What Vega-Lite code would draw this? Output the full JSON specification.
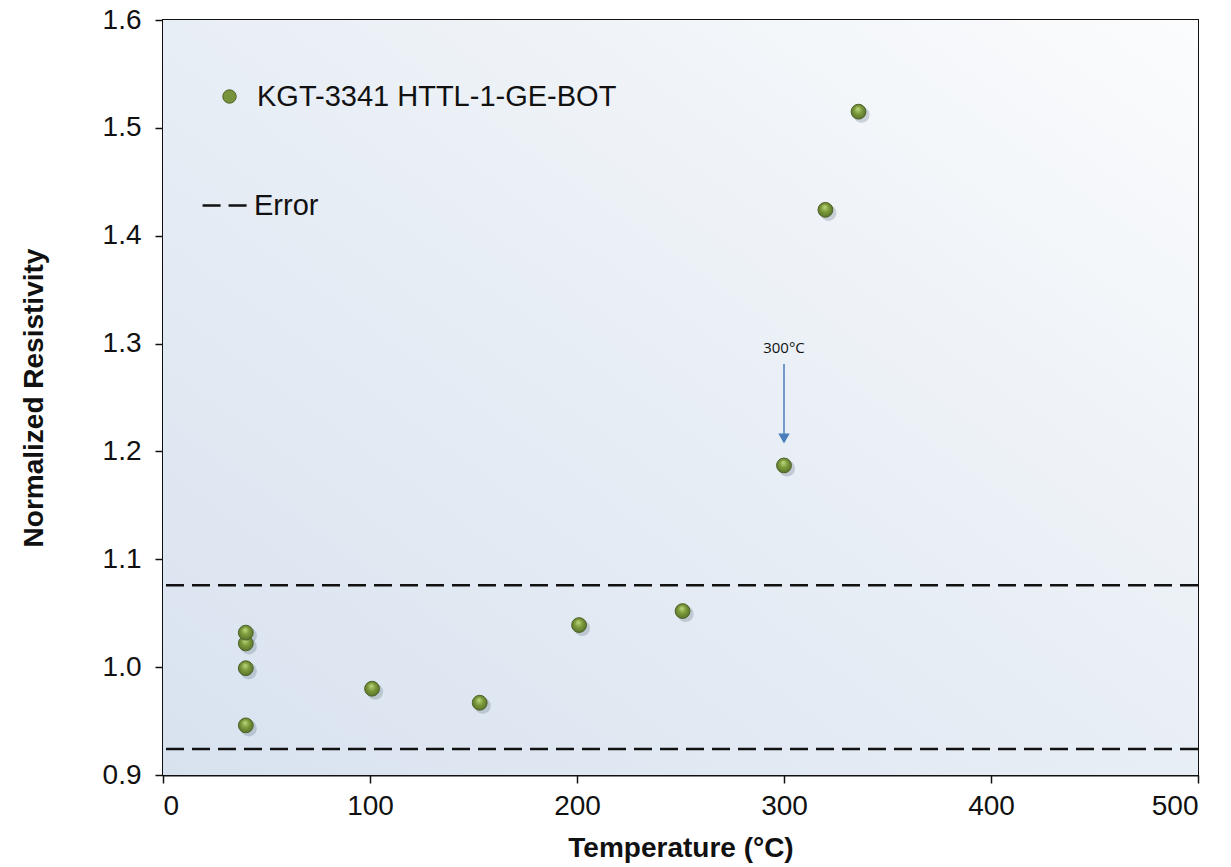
{
  "$schema": "https://vega.github.io/schema/vega-lite/v6.json",
  "width": 1035,
  "height": 755,
  "autosize": {"type": "none"},
  "padding": {"left": 163, "top": 20, "right": 33, "bottom": 92},
  "background": "white",
  "config": {
    "font": "Liberation Sans",
    "view": {"stroke": "#111111", "strokeWidth": 2},
    "axis": {
      "domainColor": "#111111",
      "domainWidth": 2,
      "tickColor": "#111111",
      "tickWidth": 1.5,
      "tickSize": 8,
      "grid": false,
      "labelFont": "Liberation Sans",
      "labelFontSize": 28,
      "labelColor": "#111111",
      "titleFont": "Liberation Sans",
      "titleFontSize": 28,
      "titleFontWeight": "bold",
      "titleColor": "#111111"
    },
    "legend": {
      "labelFont": "Liberation Sans",
      "labelFontSize": 29,
      "labelColor": "#111111",
      "labelLimit": 0,
      "title": null
    }
  },
  "datasets": {
    "resistivity": [
      {"temperature": 40, "resistivity": 0.946, "series": "KGT-3341 HTTL-1-GE-BOT"},
      {"temperature": 40, "resistivity": 0.999, "series": "KGT-3341 HTTL-1-GE-BOT"},
      {"temperature": 40, "resistivity": 1.022, "series": "KGT-3341 HTTL-1-GE-BOT"},
      {"temperature": 40, "resistivity": 1.032, "series": "KGT-3341 HTTL-1-GE-BOT"},
      {"temperature": 101, "resistivity": 0.980, "series": "KGT-3341 HTTL-1-GE-BOT"},
      {"temperature": 153, "resistivity": 0.967, "series": "KGT-3341 HTTL-1-GE-BOT"},
      {"temperature": 201, "resistivity": 1.039, "series": "KGT-3341 HTTL-1-GE-BOT"},
      {"temperature": 251, "resistivity": 1.052, "series": "KGT-3341 HTTL-1-GE-BOT"},
      {"temperature": 300, "resistivity": 1.187, "series": "KGT-3341 HTTL-1-GE-BOT"},
      {"temperature": 320, "resistivity": 1.424, "series": "KGT-3341 HTTL-1-GE-BOT"},
      {"temperature": 336, "resistivity": 1.515, "series": "KGT-3341 HTTL-1-GE-BOT"}
    ],
    "errorBand": [
      {"level": 1.076, "label": "Error"},
      {"level": 0.924, "label": "Error"}
    ],
    "callout": [
      {"temperature": 300, "top": 1.281, "tip": 1.212, "text": "300°C", "textAt": 1.296}
    ]
  },
  "layer": [
    {
      "data": {"values": [{"x0": 0, "x1": 500, "y0": 0.9, "y1": 1.6}]},
      "mark": {
        "type": "rect",
        "fill": {
          "gradient": "linear",
          "x1": 0, "y1": 1, "x2": 1, "y2": 0,
          "stops": [
            {"offset": 0, "color": "#d8e2ef"},
            {"offset": 0.5, "color": "#e8eef5"},
            {"offset": 1, "color": "#fbfcfd"}
          ]
        }
      },
      "encoding": {
        "x": {"field": "x0", "type": "quantitative", "scale": {"domain": [0, 500]}},
        "x2": {"field": "x1"},
        "y": {"field": "y0", "type": "quantitative", "scale": {"domain": [0.9, 1.6]}},
        "y2": {"field": "y1"}
      }
    },
    {
      "data": {"name": "errorBand"},
      "mark": {"type": "rule", "strokeWidth": 2.5, "color": "#111111"},
      "encoding": {
        "y": {"field": "level", "type": "quantitative"},
        "strokeDash": {
          "field": "label",
          "type": "nominal",
          "scale": {"domain": ["Error"], "range": [[18, 8]]},
          "legend": {
            "orient": "none",
            "legendX": 38,
            "legendY": 161,
            "symbolType": "stroke",
            "symbolSize": 2100,
            "symbolStrokeWidth": 2.5,
            "symbolStrokeColor": "#111111",
            "symbolDash": [18, 8],
            "labelOffset": 4
          }
        }
      }
    },
    {
      "data": {"name": "callout"},
      "mark": {"type": "rule", "color": "#4a7ebb", "strokeWidth": 1.5},
      "encoding": {
        "x": {"field": "temperature", "type": "quantitative"},
        "y": {"field": "top", "type": "quantitative"},
        "y2": {"field": "tip"}
      }
    },
    {
      "data": {"name": "callout"},
      "mark": {"type": "point", "shape": "triangle-down", "filled": true, "color": "#4a7ebb", "size": 130, "opacity": 1},
      "encoding": {
        "x": {"field": "temperature", "type": "quantitative"},
        "y": {"field": "tip", "type": "quantitative"}
      }
    },
    {
      "data": {"name": "callout"},
      "mark": {"type": "text", "font": "Open Sans", "fontSize": 15, "color": "#111111", "baseline": "middle"},
      "encoding": {
        "x": {"field": "temperature", "type": "quantitative"},
        "y": {"field": "textAt", "type": "quantitative"},
        "text": {"field": "text"}
      }
    },
    {
      "data": {"name": "resistivity"},
      "mark": {"type": "point", "filled": true, "size": 260, "color": "#6b7a8a", "opacity": 0.3, "xOffset": 3, "yOffset": 3},
      "encoding": {
        "x": {"field": "temperature", "type": "quantitative"},
        "y": {"field": "resistivity", "type": "quantitative"}
      }
    },
    {
      "data": {"name": "resistivity"},
      "mark": {
        "type": "point",
        "filled": true,
        "size": 220,
        "opacity": 1,
        "stroke": "#4f6228",
        "strokeWidth": 1,
        "fill": {
          "gradient": "radial",
          "x1": 0.45, "y1": 0.3, "r1": 0,
          "x2": 0.5, "y2": 0.5, "r2": 0.6,
          "stops": [
            {"offset": 0, "color": "#c0da82"},
            {"offset": 0.45, "color": "#7c9a3a"},
            {"offset": 1, "color": "#50692a"}
          ]
        }
      },
      "encoding": {
        "x": {
          "field": "temperature",
          "type": "quantitative",
          "title": "Temperature (°C)",
          "scale": {"domain": [0, 500]},
          "axis": {"values": [0, 100, 200, 300, 400, 500], "labelPadding": 9, "titlePadding": 14}
        },
        "y": {
          "field": "resistivity",
          "type": "quantitative",
          "title": "Normalized Resistivity",
          "scale": {"domain": [0.9, 1.6]},
          "axis": {"values": [0.9, 1.0, 1.1, 1.2, 1.3, 1.4, 1.5, 1.6], "format": ".1f", "labelPadding": 14, "titlePadding": 54}
        },
        "color": {
          "field": "series",
          "type": "nominal",
          "scale": {"range": ["#77933c"]},
          "legend": {
            "orient": "none",
            "legendX": 52,
            "legendY": 62,
            "symbolType": "circle",
            "symbolSize": 180,
            "symbolFillColor": "#77933c",
            "symbolStrokeColor": "#4f6228",
            "symbolStrokeWidth": 1,
            "labelOffset": 13
          }
        }
      }
    }
  ]
}
